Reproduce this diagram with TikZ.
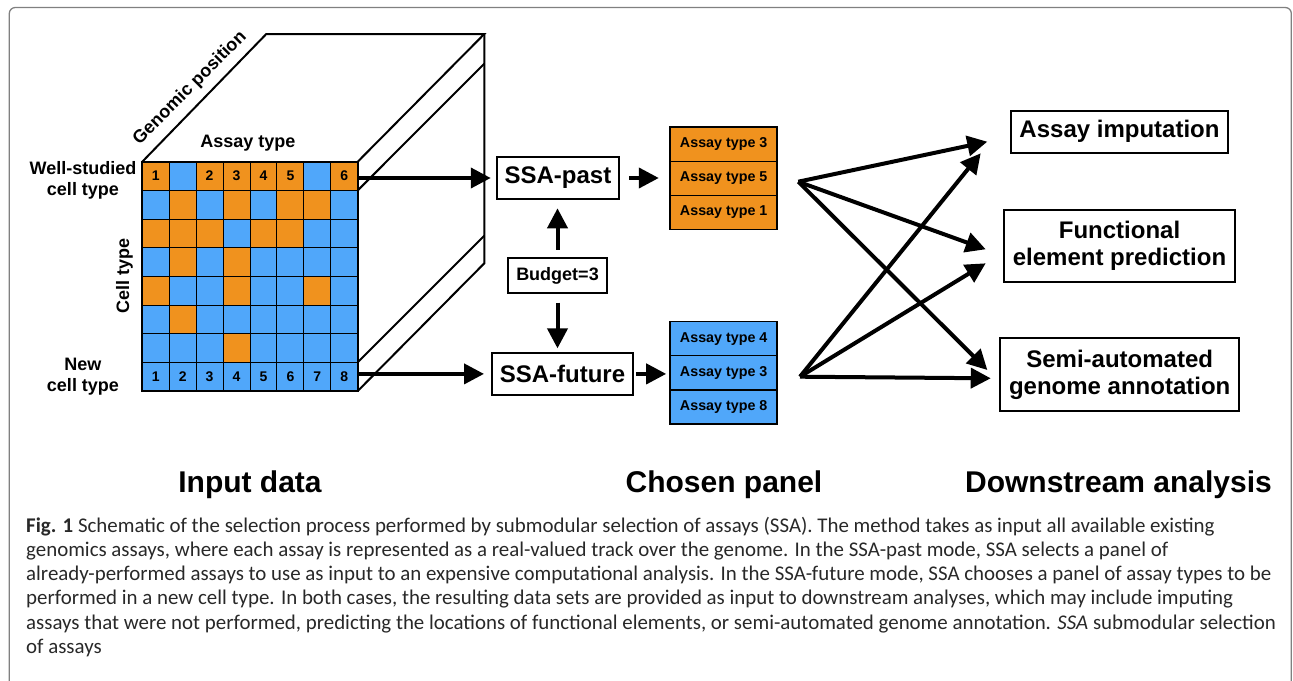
\documentclass[tikz,border=0pt]{standalone}
\usepackage{fontspec}
\setmainfont{Liberation Sans}
\newfontfamily\capfont{Carlito}
\usetikzlibrary{arrows.meta,calc}
\definecolor{cO}{RGB}{240,146,30}
\definecolor{cB}{RGB}{80,167,250}
\definecolor{frame}{RGB}{128,128,128}
\definecolor{captxt}{RGB}{40,40,40}
\begin{document}
\begin{tikzpicture}[x=1pt,y=-1pt,
  arr/.style={line width=4pt,-{Triangle[length=20pt,width=20pt]}},
  cell/.style={draw=black,line width=1pt,minimum width=26.93pt,minimum height=28.66pt,inner sep=0pt,outer sep=0pt},
  num/.style={font=\fontsize{14}{16}\selectfont\bfseries,inner sep=0pt},
  lab/.style={font=\fontsize{18}{21.6}\selectfont\bfseries,inner sep=0pt,align=center},
  box/.style={draw=black,line width=2pt,inner sep=0pt,align=center,font=\fontsize{24}{27}\selectfont\bfseries},
  pcell/.style={draw=black,line width=1pt,minimum width=106pt,minimum height=33.9pt,inner sep=0pt,font=\fontsize{14.3}{16}\selectfont\bfseries},
  head/.style={font=\fontsize{30}{34}\selectfont\bfseries,inner sep=0pt,anchor=base},
  capl/.style={font=\capfont\fontsize{20.9}{24}\selectfont,text=captxt,inner sep=0pt,anchor=base west},
  cube/.style={line width=2pt}
]
\useasboundingbox (0,0) rectangle (1293,680);
\clip (0,0) rectangle (1293,680);
\draw[frame,line width=1.3pt,rounded corners=6pt] (9.3,7.5) rectangle (1291.3,720);

% grid
\foreach \row [count=\r] in {{O,B,O,O,O,O,B,O},{B,O,B,O,B,O,O,B},{O,O,O,B,O,O,B,B},{B,O,B,O,B,B,B,B},{O,B,B,O,B,B,O,B},{B,O,B,B,B,B,B,B},{B,B,B,O,B,B,B,B},{B,B,B,B,B,B,B,B}}
  \foreach \k [count=\c] in \row
    \node[cell,fill=c\k] (g\r-\c) at ({142.3+(\c-0.5)*26.93},{161.7+(\r-0.5)*28.66}) {};
\draw[line width=2pt] (g1-1.north west) rectangle (g8-8.south east);
\foreach \c/\t in {1/1,3/2,4/3,5/4,6/5,8/6}
  \node[num] (na\c) at (g1-\c) {\t};
\foreach \c in {1,...,8}
  \node[num] (nb\c) at (g8-\c) {\c};

% cube
\coordinate (tbl) at (266.3,34);
\coordinate (tbr) at (484.3,34);
\coordinate (bbr) at (484.3,263.3);
\coordinate (m1) at (484.3,63.7);
\coordinate (m2) at (484.3,235.7);
\draw[cube] (g1-1.north west) -- (tbl) -- (tbr) -- (g1-8.north east);
\draw[cube] (tbr) -- (bbr) -- (g8-8.south east);
\draw[cube] (g1-8.south east) -- (m1);
\draw[cube] (g7-8.south east) -- (m2);

% labels of the data
\node[lab,rotate=45] (gp) at (190,88) {Genomic position};
\node[lab] (at) at (248,143.5) {Assay type};
\node[lab] (ws) at (83,180.5) {Well-studied\\cell type};
\node[lab] (nc) at (83,376.5) {New\\cell type};
\node[lab,rotate=90] (ct) at (124.5,276) {Cell type};

% SSA boxes
\node[box,minimum width=122.3pt,minimum height=42.6pt] (past) at (557.9,178) {SSA-past};
\node[box,minimum width=141.6pt,minimum height=42.3pt] (fut) at (562.5,373.9) {SSA-future};
\node[box,minimum width=98.4pt,minimum height=35pt,font=\fontsize{18}{20}\selectfont\bfseries] (bud) at (557.5,275.8) {Budget=3};

\draw[arr,shorten >=5pt] (g1-8.east |- past.west) -- (past.west);
\draw[arr,shorten >=6.7pt] (g8-8.east |- fut.west) -- (fut.west);
\draw[arr,shorten <=7.6pt,shorten >=8pt] (bud.north) -- (bud.north |- past.south);
\draw[arr,shorten <=8.4pt,shorten >=3.4pt] (bud.south) -- (bud.south |- fut.north);

% panels
\node[pcell,fill=cO] (p1) at (723.7,144.25) {Assay type 3};
\node[pcell,fill=cO] (p2) at (723.7,178.15) {Assay type 5};
\node[pcell,fill=cO] (p3) at (723.7,212.05) {Assay type 1};
\draw[line width=1.5pt] (p1.north west) rectangle (p3.south east);
\node[pcell,fill=cB] (f1) at (723.7,338.75) {Assay type 4};
\node[pcell,fill=cB] (f2) at (723.7,372.85) {Assay type 3};
\node[pcell,fill=cB] (f3) at (723.7,406.95) {Assay type 8};
\draw[line width=1.5pt] (f1.north west) rectangle (f3.south east);

\draw[arr,shorten <=9.3pt,shorten >=11.4pt] (past.east) -- (past.east -| p2.west);
\draw[arr,shorten <=1.7pt,shorten >=4pt] (fut.east) -- (fut.east -| f2.west);

% downstream
\node[box,minimum width=217.6pt,minimum height=42pt] (imp) at (1119.5,131.7) {Assay imputation};
\node[box,minimum width=231pt,minimum height=71.7pt] (fun) at (1119.5,245.85) {Functional\\element prediction};
\node[box,minimum width=239.3pt,minimum height=72.4pt] (sem) at (1119.7,374.5) {Semi-automated\\genome annotation};

\coordinate (s1) at (798.3,181.7);
\coordinate (s2) at (800,376.7);
\draw[arr] (s1) -- ($(imp.west)+(-22.4,10)$);
\draw[arr] (s1) -- ($(fun.west)+(-17.3,3.45)$);
\draw[arr] (s1) -- ($(sem.west)+(-11.7,-4.5)$);
\draw[arr] (s2) -- ($(imp.west)+(-29,21.6)$);
\draw[arr] (s2) -- ($(fun.west)+(-17.3,17.45)$);
\draw[arr] (s2) -- ($(sem.west)+(-8.3,3.8)$);

% headings
\node[head] (h1) at (250,492) {Input data};
\node[head] (h2) at (724,492) {Chosen panel};
\node[head] (h3) at (1118.5,492) {Downstream analysis};

% caption
\node[capl] (c1) at (26,532) {\textbf{Fig. 1} Schematic of the selection process performed by submodular selection of assays (SSA). The method takes as input all available existing};
\node[capl] (c2) at (26,556.3) {genomics assays, where each assay is represented as a real-valued track over the genome. In the SSA-past mode, SSA selects a panel of};
\node[capl] (c3) at (26,580.6) {already-performed assays to use as input to an expensive computational analysis. In the SSA-future mode, SSA chooses a panel of assay types to be};
\node[capl] (c4) at (26,604.9) {performed in a new cell type. In both cases, the resulting data sets are provided as input to downstream analyses, which may include imputing};
\node[capl] (c5) at (26,629.2) {assays that were not performed, predicting the locations of functional elements, or semi-automated genome annotation. \textit{SSA} submodular selection};
\node[capl] (c6) at (26,653.5) {of assays};
\end{tikzpicture}
\end{document}
